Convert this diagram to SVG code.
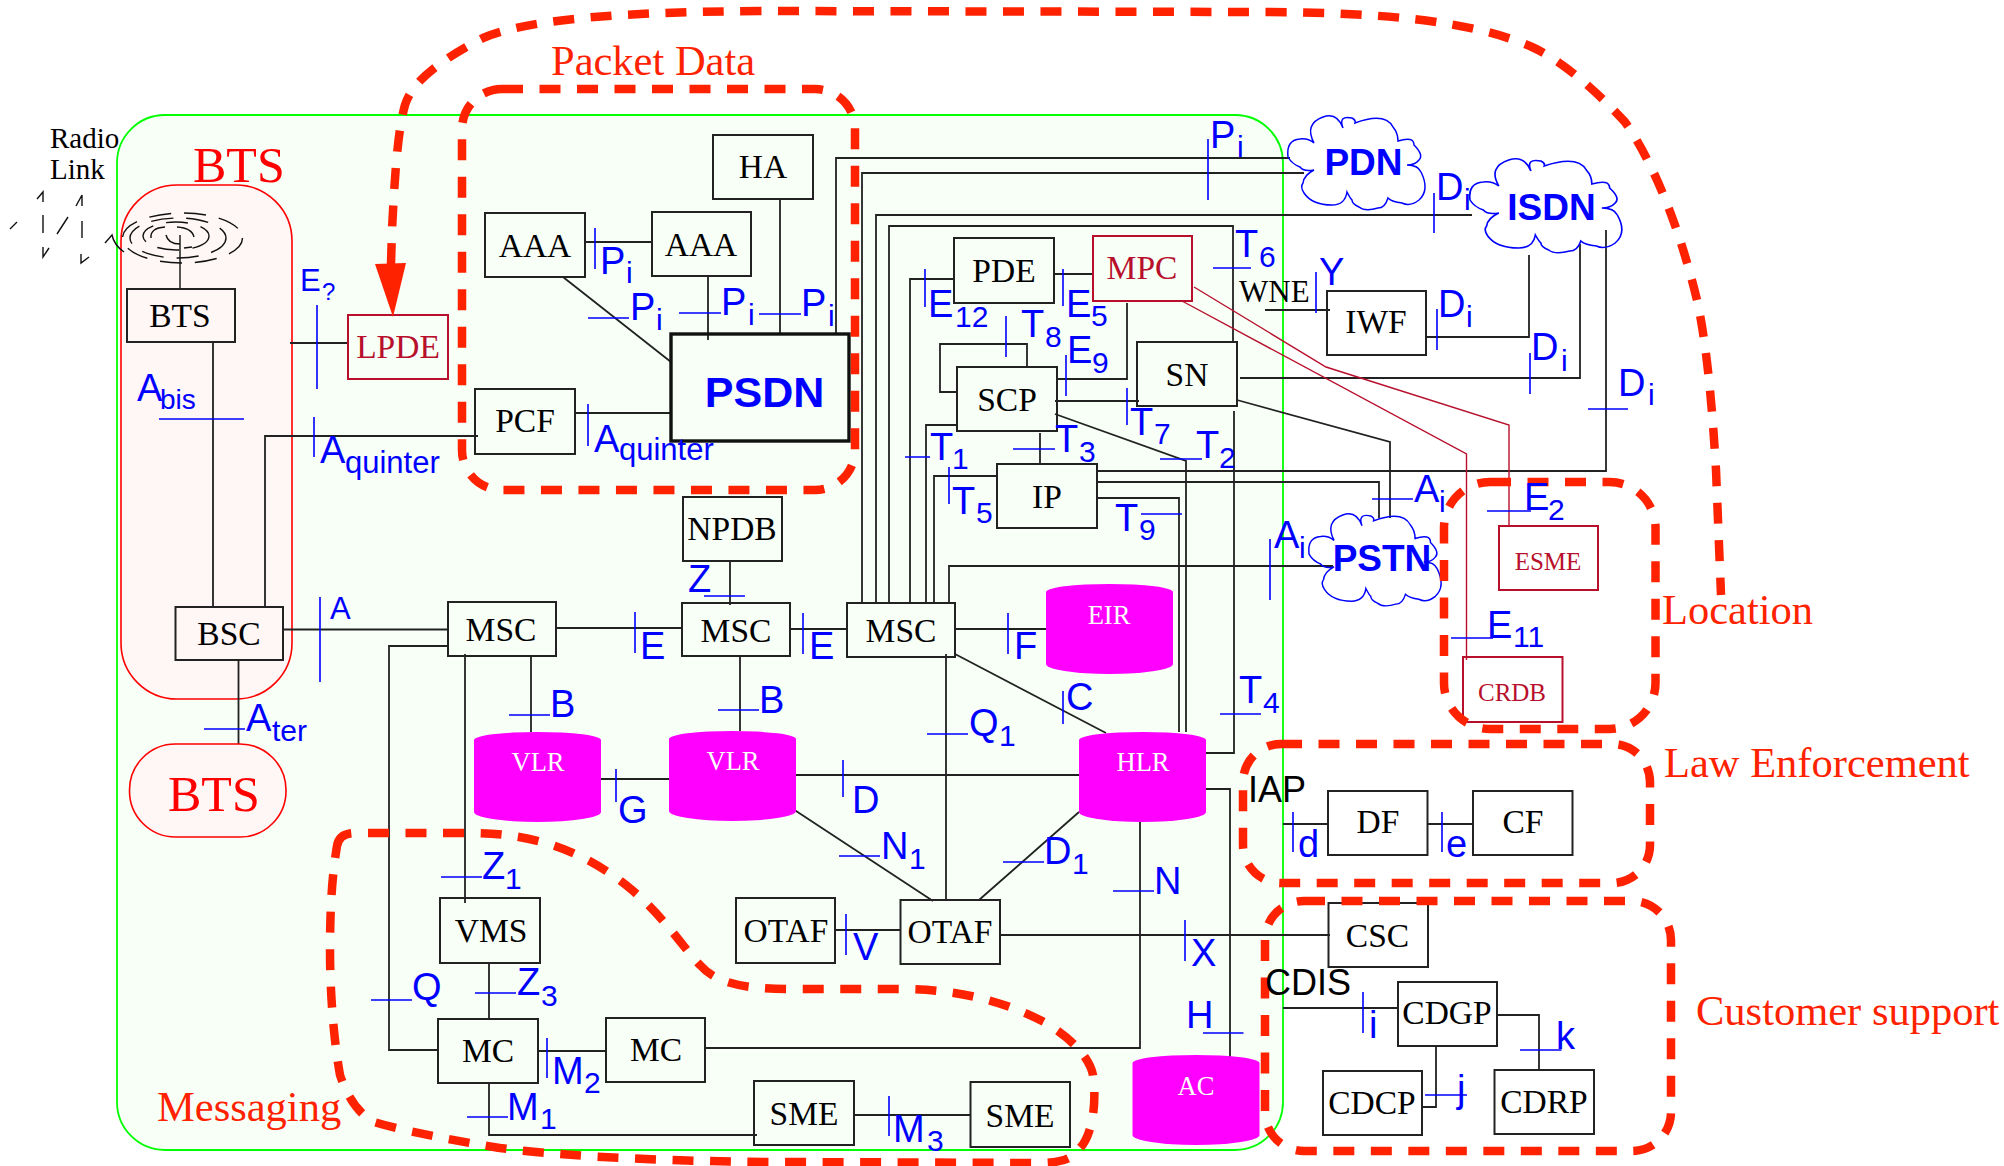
<svg xmlns="http://www.w3.org/2000/svg" xmlns:xlink="http://www.w3.org/1999/xlink" width="2004" height="1166" viewBox="0 0 2004 1166">
<style>
.bg{fill:#fff}
.box{fill:none;stroke:#222;stroke-width:2}
.rbox{fill:none;stroke:#b8102c;stroke-width:2}
.w{fill:none;stroke:#222;stroke-width:1.8}
.rw{fill:none;stroke:#b8102c;stroke-width:1.4}
.t{fill:none;stroke:#0000ff;stroke-width:1.6}
.d{fill:none;stroke:#ff2200;stroke-width:8.5;stroke-dasharray:21 16.500}
.a{fill:none;stroke:#111;stroke-width:1.4}
.ad{stroke-dasharray:22 13}
.cloud{fill:none;stroke:#0000ff;stroke-width:1.5}
.cyl{fill:#ff00ff}
text{font-family:"Liberation Serif",serif}
.bt{font-size:33.5px;text-anchor:middle;fill:#000}
.rt{font-size:33.5px;text-anchor:middle;fill:#b8102c}
.wt{font-size:26.5px;text-anchor:middle;fill:#fff}
.big{font-size:42.500px;fill:#ff2200}
.btsl{font-size:50px;fill:#ff0000}
.l{font-family:"Liberation Sans",sans-serif;font-size:38px;fill:#0000ff}
.s{font-size:30px}
.k{font-family:"Liberation Sans",sans-serif;font-size:36px;fill:#000}
.cl{font-family:"Liberation Sans",sans-serif;font-weight:bold;font-size:37px;fill:#0000ff;text-anchor:middle}
</style>
<defs>
<path id="cyl-shape" d="M0,8 A63.5,8 0 0 1 127,8 L127,80 A63.5,10 0 0 1 0,80 Z"/>
<path id="cloud-shape" d="M1288,157 Q1286,140 1300,139 Q1308,138 1314,143 Q1304,124 1323,117 Q1337,112 1343,128 Q1338,115 1352,118 Q1356,120 1355,123 Q1385,112 1393,127 Q1398,133 1398,141 Q1414,136 1414,145 Q1424,155 1419,160 Q1415,165 1407,165 Q1418,165 1421,172 Q1430,190 1419,200 Q1410,207 1402,203 Q1392,202 1388,198 Q1385,208 1378,208 Q1365,212 1359,207 Q1352,204 1352,200 Q1350,198 1347,192 Q1345,205 1332,205 Q1312,205 1304,193 Q1300,187 1303,183 Q1304,175 1314,170 Q1304,172 1300,167 Q1292,164 1288,157 Z"/>
</defs>
<rect class="bg" width="2004" height="1166"/>
<g id="core-network"><rect x="117" y="115" width="1166" height="1035" rx="48" fill="#f7fff7" stroke="#00ff00" stroke-width="1.8"/></g>
<g id="bts-region"><rect x="121" y="185" width="171" height="514" rx="56" fill="#fff6f6" stroke="#ff0000" stroke-width="1.6"/></g>
<g id="radio-link">
<ellipse class="a ad" cx="182.500" cy="238" rx="60" ry="25"/>
<ellipse class="a ad" cx="178" cy="238" rx="48" ry="20" stroke-dasharray="20 13"/>
<ellipse class="a ad" cx="176" cy="236" rx="33" ry="14" stroke-dasharray="16 8"/>
<path class="a" d="M151,238 Q150,228 165,227 M177,227 Q192,228 194,237 M166,235 Q168,244 180,244 M184,248 L192,247"/>
<path class="a" d="M180,235 V288"/>
<path class="a" d="M37,199 L43,192 V202 M43,215 V233 M43,247 V257 L49,248 M76,206 L82,195 V206 M82,221 V238 M81,254 V263 L89,257 M10,229 L17,222 M57,234 L68,217 M105,243 L112,235 Q114,245 124,252"/>
<text font-size="29" x="50" y="148">Radio</text>
<text font-size="29" x="50" y="179">Link</text>
</g>
<g id="connectors">
<path class="w" d="M213,342 V607 M265,607 V436 H478 M290,343 H348 M283,629.500 H448 M238.500,660 V744"/>
<path class="w" d="M585,242 H652 M563,277 L671,362 M708,276 V340 M780,199 V334 M575,413 H671"/>
<path class="w" d="M836,334 V158 H1290 M862,603 V173 H1304 M876,603 V215 H1472 M889,603 V226 H1233 V342 M910,603 V279 H955 M926,603 V425 H958 M934,603 V476 H998 M949,603 V566 H1333"/>
<path class="w" d="M1054,274 H1093 M958,392 H940 V344 H1027 V367 M1056,379 H1127 V303 M1055,401 H1139 M1055,414 L1186,461 V732 M1040,433 V464"/>
<path class="w" d="M1097,498 H1179 V732 M1097,471 H1606 V230 M1097,482 H1379 V518 M1237,400 L1390,442 V518 M1240,378 H1580 V244 M1426,337 H1529 V255 M1265,310 H1330 M1234,411 V753 H1205 M1205,789 H1230 V1059"/>
<path class="rw" d="M1194,287 L1326,367 L1509,425 V526 M1182,301 L1466.500,454 V660"/>
<path class="w" d="M556,628 H682 M730,561 V605 M790,629 H847 M955,629 H1046 M955,654 L1106,733 M946,654 V900 M531,656 V732 M740,656 V731 M601,779 H669 M795,775 H1079 M793,809 L933,901 M1079,812 L979,900 M1140,822 V1048 H705"/>
<path class="w" d="M1000,935 H1330 M835,930 H900 M448,646 H389 V1050 H438 M465,654 V903 M489,963 V1019 M538,1051 H606 M489,1083 V1135 H757 M854,1115 H970"/>
<path class="w" d="M1283,824 H1328 M1427.500,824 H1473 M1283,1008 H1398 M1436,1046 V1107 H1422 M1497,1015 H1539 V1070"/>
<path class="t" d="M317,305 V389 M159,419 H244 M314,417 V457 M320,597 V682 M204,729 H245"/>
<path class="t" d="M595,228 V269 M588,318 H629 M679,313 H721 M759,314 H801 M588,404 V446 M1208,139 V200 M1434,193 V233 M1437,309 V350 M1530,353 V394 M1588,409 H1628"/>
<path class="t" d="M925,269 V307 M1063,269 V306 M1006,316 V357 M1066,355 V396 M1127,388 V425 M1160,459 H1202 M1013,449 H1055 M905,457 H930 M949,467 V504 M1141,514 H1182 M1213,268 H1251 M1316,272 V313"/>
<path class="t" d="M1487,511 H1531 M1451,638 H1493 M1372,499 H1413 M1270,539 V600 M704,596 H745 M635,612 V653 M803,613 V654 M1008,613 V654 M1063,691 V724 M927,734 H968 M509,715 H550 M718,710 H759 M616,769 V802 M843,760 V797 M839,856 H880 M1003,862 H1044 M1113,891 H1154 M1220,714 H1261"/>
<path class="t" d="M1185,920 V961 M846,914 V955 M371,1000 H412 M441,877 H482 M475,993 H516 M547,1038 V1078 M467,1117 H508 M889,1096 V1136 M1293,812 V852 M1442,812 V852 M1363,992 V1033 M1425,1095 H1467 M1520,1050 H1561.500 M1203,1033 H1243.500"/>
</g>
<g id="node-BTS"><rect class="box" x="127" y="289" width="108" height="53"/><text class="bt" x="180" y="327">BTS</text></g>
<g id="node-BSC"><rect class="box" x="175.500" y="607" width="107.500" height="53"/><text class="bt" x="229" y="645">BSC</text></g>
<g id="node-BTS2"><rect x="129.500" y="744" width="156.500" height="93" rx="46" fill="#fff6f6" stroke="#ff0000" stroke-width="1.6"/><text class="btsl" x="168" y="811">BTS</text></g>
<g id="node-LPDE"><rect class="rbox" x="348" y="315" width="100" height="64"/><text class="rt" x="398" y="358">LPDE</text></g>
<g id="node-AAA1"><rect class="box" x="485" y="213" width="100" height="64"/><text class="bt" x="535" y="257">AAA</text></g>
<g id="node-AAA2"><rect class="box" x="652" y="212" width="99" height="64"/><text class="bt" x="701" y="256">AAA</text></g>
<g id="node-HA"><rect class="box" x="713" y="135" width="100" height="64"/><text class="bt" x="763" y="178">HA</text></g>
<g id="node-PCF"><rect class="box" x="475" y="389" width="100" height="65"/><text class="bt" x="525" y="432">PCF</text></g>
<g id="node-PSDN"><rect x="671" y="334" width="178" height="107" fill="none" stroke="#111" stroke-width="3.4"/><text class="cl" x="764.500" y="407" style="font-size:43px">PSDN</text></g>
<g id="node-PDE"><rect class="box" x="954" y="238" width="100" height="65"/><text class="bt" x="1004" y="282">PDE</text></g>
<g id="node-MPC"><rect class="rbox" x="1093" y="236" width="99" height="65"/><text class="rt" x="1142" y="279">MPC</text></g>
<g id="node-SCP"><rect class="box" x="957" y="367" width="100" height="64"/><text class="bt" x="1007" y="411">SCP</text></g>
<g id="node-SN"><rect class="box" x="1137" y="342" width="100" height="64"/><text class="bt" x="1187" y="386">SN</text></g>
<g id="node-IP"><rect class="box" x="997" y="464" width="100" height="64"/><text class="bt" x="1047" y="508">IP</text></g>
<g id="node-IWF"><rect class="box" x="1327" y="291" width="99" height="64"/><text class="bt" x="1376" y="333">IWF</text></g>
<g id="node-NPDB"><rect class="box" x="683" y="497" width="99" height="64"/><text class="bt" x="732" y="540">NPDB</text></g>
<g id="node-MSC1"><rect class="box" x="448" y="602" width="108" height="54"/><text class="bt" x="501" y="641">MSC</text></g>
<g id="node-MSC2"><rect class="box" x="682" y="603" width="108" height="53"/><text class="bt" x="736" y="642">MSC</text></g>
<g id="node-MSC3"><rect class="box" x="847" y="603" width="108" height="54"/><text class="bt" x="901" y="642">MSC</text></g>
<g id="node-EIR"><use class="cyl" href="#cyl-shape" x="1046" y="584"/><text class="wt" x="1109" y="624">EIR</text></g>
<g id="node-VLR1"><use class="cyl" href="#cyl-shape" x="474" y="732"/><text class="wt" x="538" y="771">VLR</text></g>
<g id="node-VLR2"><use class="cyl" href="#cyl-shape" x="669" y="731"/><text class="wt" x="733" y="770">VLR</text></g>
<g id="node-HLR"><use class="cyl" href="#cyl-shape" x="1079" y="732"/><text class="wt" x="1143" y="771">HLR</text></g>
<g id="node-AC"><use class="cyl" href="#cyl-shape" x="1132.500" y="1055"/><text class="wt" x="1196" y="1095">AC</text></g>
<g id="node-VMS"><rect class="box" x="440" y="898" width="100" height="65"/><text class="bt" x="491" y="942">VMS</text></g>
<g id="node-OTAF1"><rect class="box" x="736" y="898" width="99" height="65"/><text class="bt" x="786" y="942">OTAF</text></g>
<g id="node-OTAF2"><rect class="box" x="900.500" y="900" width="99.500" height="64"/><text class="bt" x="950" y="943">OTAF</text></g>
<g id="node-MC1"><rect class="box" x="438" y="1019" width="100" height="64"/><text class="bt" x="488" y="1062">MC</text></g>
<g id="node-MC2"><rect class="box" x="606" y="1018" width="99" height="64"/><text class="bt" x="656" y="1061">MC</text></g>
<g id="node-SME1"><rect class="box" x="754" y="1081" width="100" height="64"/><text class="bt" x="804" y="1125">SME</text></g>
<g id="node-SME2"><rect class="box" x="970.500" y="1082" width="99.500" height="65"/><text class="bt" x="1020" y="1127">SME</text></g>
<g id="node-CSC"><rect class="box" x="1328.500" y="903" width="99.500" height="64"/><text class="bt" x="1377.500" y="947">CSC</text></g>
<g id="node-CDGP"><rect class="box" x="1398" y="982" width="99" height="64"/><text class="bt" x="1447" y="1024">CDGP</text></g>
<g id="node-CDCP"><rect class="box" x="1323" y="1071" width="99" height="64"/><text class="bt" x="1372" y="1114">CDCP</text></g>
<g id="node-CDRP"><rect class="box" x="1494.500" y="1070" width="99.500" height="64"/><text class="bt" x="1544" y="1113">CDRP</text></g>
<g id="node-DF"><rect class="box" x="1328" y="791" width="99.500" height="64"/><text class="bt" x="1378" y="833">DF</text></g>
<g id="node-CF"><rect class="box" x="1473" y="791" width="99.500" height="64"/><text class="bt" x="1523" y="833">CF</text></g>
<g id="node-ESME"><rect class="rbox" x="1499" y="526" width="99" height="64"/><text class="rt" x="1548" y="570" style="font-size:25px">ESME</text></g>
<g id="node-CRDB"><rect class="rbox" x="1463" y="657" width="99.500" height="65"/><text class="rt" x="1512" y="701" style="font-size:25px">CRDB</text></g>
<g id="node-PDN"><use class="cloud" href="#cloud-shape"/><text class="cl" x="1363.500" y="175">PDN</text></g>
<g id="node-ISDN"><use class="cloud" href="#cloud-shape" transform="translate(42.900,43) scale(1.108,1)"/><text class="cl" x="1551.500" y="220">ISDN</text></g>
<g id="node-PSTN"><use class="cloud" href="#cloud-shape" transform="translate(67.400,400.300) scale(.964,.98)"/><text class="cl" x="1382" y="571">PSTN</text></g>
<g id="domains">
<path class="d" d="M391,264 L392,230 C395,170 398,130 405,105 C413,78 450,55 483,38 C530,18 630,12 760,11 L1270,12 C1380,13 1470,20 1532,47 C1565,62 1600,95 1625,122 C1655,165 1680,230 1697,300 C1708,350 1713,420 1716,470 L1721,595"/>
<polygon points="375,264 406,263 393,317" fill="#ff2200"/>
<rect class="d" x="462" y="89" width="393" height="401" rx="40"/>
<rect class="d" x="1444" y="482" width="211.500" height="247" rx="46"/>
<rect class="d" x="1243" y="744" width="407" height="139" rx="38"/>
<rect class="d" x="1265" y="901" width="406" height="250" rx="39"/>
<path class="d" d="M337,846 Q339,833 355,833 L470,833 C540,833 590,855 632,890 C665,918 685,950 700,965 C715,982 740,989 790,989 L900,989 C960,989 1005,1002 1044,1022 C1075,1040 1090,1060 1093,1075 C1097,1105 1092,1135 1080,1148 C1072,1160 1060,1163 1035,1163 L790,1162 C680,1162 570,1157 500,1148 C450,1140 400,1130 374,1122 C355,1112 345,1090 340,1075 C332,1030 330,980 330,950 C330,900 333,870 337,846 Z"/>
</g>
<g id="domain-labels">
<text class="btsl" x="193" y="182">BTS</text>
<text class="big" x="551" y="75">Packet Data</text>
<text class="big" x="1662" y="624">Location</text>
<text class="big" x="1664" y="777">Law Enforcement</text>
<text class="big" x="1696" y="1025">Customer support</text>
<text class="big" x="157" y="1121">Messaging</text>
</g>
<g id="interface-labels">
<text class="k" x="1248" y="802">IAP</text>
<text class="k" x="1265" y="995">CDIS</text>
<text font-size="31" x="1239" y="302">WNE</text>
<text class="l" style="font-size:31px"><tspan x="300" y="291">E</tspan><tspan style="font-size:24px" x="322" y="300">?</tspan></text>
<text class="l"><tspan x="137" y="401">A</tspan><tspan style="font-size:28px" x="160" y="409">bis</tspan></text>
<text class="l"><tspan x="320" y="463">A</tspan><tspan style="font-size:31px" x="345" y="473">quinter</tspan></text>
<text class="l"><tspan x="594" y="452">A</tspan><tspan style="font-size:31px" x="619" y="460">quinter</tspan></text>
<text class="l" style="font-size:31px" x="330" y="619">A</text>
<text class="l"><tspan x="246" y="731">A</tspan><tspan class="s" x="272" y="741">ter</tspan></text>
<text class="l"><tspan x="600" y="274">P</tspan><tspan class="s" x="626" y="283">i</tspan></text>
<text class="l"><tspan x="630" y="320">P</tspan><tspan class="s" x="656" y="330">i</tspan></text>
<text class="l"><tspan x="721" y="315">P</tspan><tspan class="s" x="748" y="325">i</tspan></text>
<text class="l"><tspan x="801" y="316">P</tspan><tspan class="s" x="828" y="326">i</tspan></text>
<text class="l"><tspan x="1210" y="148">P</tspan><tspan class="s" x="1237" y="157">i</tspan></text>
<text class="l"><tspan x="1436" y="200">D</tspan><tspan class="s" x="1464" y="210">i</tspan></text>
<text class="l"><tspan x="1438" y="317">D</tspan><tspan class="s" x="1466" y="327">i</tspan></text>
<text class="l"><tspan x="1531" y="360">D</tspan><tspan class="s" x="1561" y="371">i</tspan></text>
<text class="l"><tspan x="1618" y="396">D</tspan><tspan class="s" x="1648" y="405">i</tspan></text>
<text class="l"><tspan x="928" y="317">E</tspan><tspan class="s" x="955" y="327">12</tspan></text>
<text class="l"><tspan x="1066" y="317">E</tspan><tspan class="s" x="1091" y="326">5</tspan></text>
<text class="l"><tspan x="1067" y="363">E</tspan><tspan class="s" x="1092" y="373">9</tspan></text>
<text class="l"><tspan x="1021" y="337">T</tspan><tspan class="s" x="1045" y="347">8</tspan></text>
<text class="l"><tspan x="1130" y="435">T</tspan><tspan class="s" x="1154" y="444">7</tspan></text>
<text class="l"><tspan x="1196" y="458">T</tspan><tspan class="s" x="1219" y="468">2</tspan></text>
<text class="l"><tspan x="1055" y="452">T</tspan><tspan class="s" x="1079" y="462">3</tspan></text>
<text class="l"><tspan x="930" y="460">T</tspan><tspan class="s" x="952" y="469">1</tspan></text>
<text class="l"><tspan x="952" y="514">T</tspan><tspan class="s" x="976" y="523">5</tspan></text>
<text class="l"><tspan x="1115" y="531">T</tspan><tspan class="s" x="1139" y="540">9</tspan></text>
<text class="l"><tspan x="1235" y="257">T</tspan><tspan class="s" x="1259" y="267">6</tspan></text>
<text class="l"><tspan x="1239" y="703">T</tspan><tspan class="s" x="1263" y="713">4</tspan></text>
<text class="l" x="1319" y="285">Y</text>
<text class="l"><tspan x="1524" y="510">E</tspan><tspan class="s" x="1548" y="520">2</tspan></text>
<text class="l"><tspan x="1487" y="638">E</tspan><tspan class="s" x="1513" y="647">11</tspan></text>
<text class="l"><tspan x="1414" y="502">A</tspan><tspan class="s" x="1439" y="512">i</tspan></text>
<text class="l"><tspan x="1274" y="548">A</tspan><tspan class="s" x="1299" y="558">i</tspan></text>
<text class="l" x="688" y="592">Z</text>
<text class="l" x="640" y="659">E</text>
<text class="l" x="809" y="659">E</text>
<text class="l" x="1014" y="659">F</text>
<text class="l" x="1066" y="710">C</text>
<text class="l"><tspan x="969" y="736">Q</tspan><tspan class="s" x="999" y="746">1</tspan></text>
<text class="l" x="550" y="717">B</text>
<text class="l" x="759" y="713">B</text>
<text class="l" x="618" y="823">G</text>
<text class="l" x="852" y="813">D</text>
<text class="l"><tspan x="881" y="859">N</tspan><tspan class="s" x="909" y="869">1</tspan></text>
<text class="l"><tspan x="1044" y="864">D</tspan><tspan class="s" x="1072" y="874">1</tspan></text>
<text class="l" x="1154" y="894">N</text>
<text class="l" x="1191" y="966">X</text>
<text class="l" x="853" y="960">V</text>
<text class="l" x="412" y="1000">Q</text>
<text class="l"><tspan x="482" y="879">Z</tspan><tspan class="s" x="505" y="889">1</tspan></text>
<text class="l"><tspan x="517" y="995">Z</tspan><tspan class="s" x="541" y="1006">3</tspan></text>
<text class="l"><tspan x="552" y="1084">M</tspan><tspan class="s" x="584" y="1093">2</tspan></text>
<text class="l"><tspan x="507" y="1120">M</tspan><tspan class="s" x="540" y="1129">1</tspan></text>
<text class="l"><tspan x="893" y="1142">M</tspan><tspan class="s" x="927" y="1151">3</tspan></text>
<text class="l" x="1298" y="857">d</text>
<text class="l" x="1446" y="857">e</text>
<text class="l" x="1369" y="1038">i</text>
<text class="l" x="1457" y="1102">j</text>
<text class="l" x="1556" y="1049">k</text>
<text class="l" x="1186" y="1028">H</text>
</g>
</svg>
